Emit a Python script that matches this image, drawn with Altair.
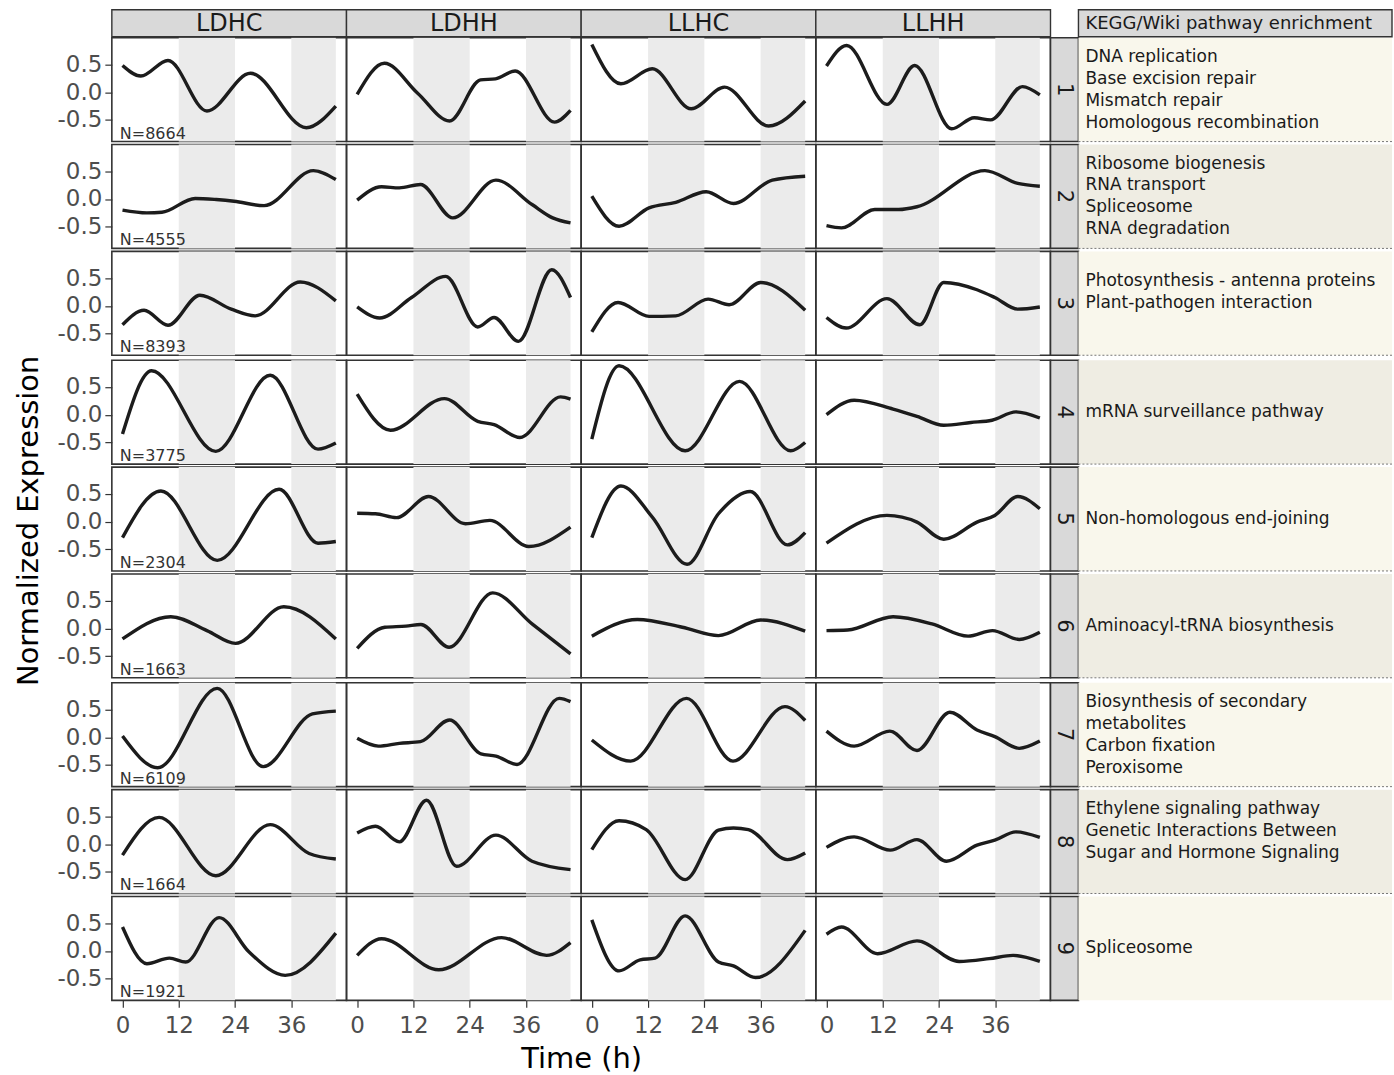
import altair as alt
import pandas as pd

FONT = "DejaVu Sans"

CONDITIONS = ["LDHC", "LDHH", "LLHC", "LLHH"]
CLUSTERS = ["1", "2", "3", "4", "5", "6", "7", "8", "9"]
CLUSTER_N = [8664, 4555, 8393, 3775, 2304, 1663, 6109, 1664, 1921]
PATHWAYS = [
    "DNA replication\nBase excision repair\nMismatch repair\nHomologous recombination",
    "Ribosome biogenesis\nRNA transport\nSpliceosome\nRNA degradation",
    "Photosynthesis - antenna proteins\nPlant-pathogen interaction\n",
    "mRNA surveillance pathway",
    "Non-homologous end-joining",
    "Aminoacyl-tRNA biosynthesis",
    "Biosynthesis of secondary\nmetabolites\nCarbon fixation\nPeroxisome",
    "Ethylene signaling pathway\nGenetic Interactions Between\nSugar and Hormone Signaling\n",
    "Spliceosome",
]
TABLE_HEADER = "KEGG/Wiki pathway enrichment"
NIGHT_START = [12, 36]
NIGHT_END = [24, 45.5]
X_TICKS = [0, 12, 24, 36]
Y_TICKS = [-0.5, 0.0, 0.5]

# (time in h, normalized expression)
LDHC = [
    [(0, .48), (3.9, .29), (9.7, .57), (18, -.34), (27.3, .34), (39.2, -.64), (45.5, -.25)],
    [(0, -.2), (5.2, -.25), (8.4, -.24), (15.5, .01), (20, -.01), (23.8, -.04), (30.2, -.12), (40.7, .51), (45.5, .35)],
    [(0, -.34), (4.6, -.08), (9.7, -.35), (16.5, .19), (23.2, -.06), (28.3, -.18), (37.9, .43), (45.5, .09)],
    [(0, -.35), (6.2, .79), (19.9, -.66), (31.5, .71), (41.7, -.62), (45.5, -.51)],
    [(0, -.29), (8.2, .55), (20.2, -.7), (33.4, .58), (41.7, -.39), (45.5, -.36)],
    [(0, -.19), (10.3, .21), (18, -.04), (24.1, -.27), (34.4, .39), (45.5, -.19)],
    [(0, .02), (7.5, -.55), (20.2, .88), (30, -.53), (40.5, .42), (45.5, .47)],
    [(0, -.2), (7.8, .48), (19.9, -.57), (31.5, .35), (39.8, -.17), (45.5, -.27)],
    [(0, .43), (5.2, -.23), (10, -.13), (13.5, -.2), (20.6, .6), (27, -.02), (34.7, -.44), (45.5, .32)],
]
LDHH = [
    [(0, -.04), (5.8, .52), (12.9, -.02), (19.7, -.52), (26.3, .22), (29.5, .24), (33.7, .38), (42.1, -.54), (45.5, -.33)],
    [(0, -.02), (5.2, .22), (9, .2), (13.5, .26), (20.4, -.34), (29.6, .34), (37.3, -.1), (41.7, -.34), (45.5, -.43)],
    [(0, -.02), (4.8, -.22), (11.6, .15), (18.9, .53), (25.7, -.38), (29.2, -.21), (34.4, -.64), (41.5, .65), (45.5, .15)],
    [(0, .37), (7.1, -.28), (18.6, .29), (25.7, -.12), (29.2, -.18), (34.7, -.41), (43.4, .32), (45.5, .28)],
    [(0, .15), (3.9, .14), (8.4, .07), (15.2, .45), (23.1, -.04), (28.3, .02), (36.6, -.45), (45.5, -.1)],
    [(0, -.36), (5.9, .02), (10.4, .04), (13.6, .07), (19.6, -.34), (28.9, .64), (37.3, .08), (45.5, -.46)],
    [(0, -.02), (4.5, -.16), (9, -.11), (13.5, -.08), (19.7, .31), (26.4, -.3), (29.6, -.34), (34.1, -.49), (43.1, .7), (45.5, .64)],
    [(0, .2), (3.9, .32), (9, .04), (14.8, .79), (21.2, -.4), (29.6, .16), (37.3, -.31), (45.5, -.46)],
    [(0, -.08), (5.2, .22), (17.4, -.34), (30.8, .24), (40.4, -.08), (45.5, .15)],
]
LLHC = [
    [(0, .86), (6.2, .15), (12.9, .42), (21.2, -.3), (28.3, .09), (37.7, -.61), (45.5, -.16)],
    [(0, .05), (5.8, -.49), (12.2, -.16), (17.9, -.06), (24.4, .13), (30.2, -.08), (38.5, .34), (45.5, .41)],
    [(0, -.47), (5.6, .06), (12.2, -.19), (17.9, -.18), (24.8, .12), (29.3, .02), (36, .42), (45.5, -.08)],
    [(0, -.44), (5.8, .88), (19.9, -.65), (31.5, .6), (42.4, -.65), (45.5, -.5)],
    [(0, -.29), (6.2, .64), (12.9, .08), (20.3, -.77), (27, .14), (33.8, .54), (41.7, -.42), (45.5, -.2)],
    [(0, -.14), (9.7, .16), (19.3, .02), (27, -.13), (36, .15), (45.5, -.05)],
    [(0, -.05), (8.3, -.43), (20.2, .7), (30.1, -.43), (41.2, .55), (45.5, .3)],
    [(0, -.1), (5.8, .42), (11.6, .26), (19.9, -.64), (27, .25), (30.2, .29), (33.4, .26), (41.7, -.28), (45.5, -.16)],
    [(0, .56), (5.8, -.36), (10.3, -.16), (13.5, -.13), (19.9, .63), (27, -.2), (30.2, -.27), (34.9, -.48), (45.5, .37)],
]
LLHH = [
    [(0, .47), (4.3, .84), (12.9, -.22), (18.8, .48), (26.7, -.66), (31.5, -.46), (35, -.5), (41.8, .1), (45.5, -.05)],
    [(0, -.48), (3.2, -.52), (10.3, -.19), (15.4, -.19), (19.3, -.14), (33.8, .51), (40.8, .28), (45.5, .23)],
    [(0, -.21), (4.2, -.4), (12.9, .13), (19.9, -.34), (25, .42), (32.1, .29), (35.9, .15), (40.8, -.06), (45.5, -.02)],
    [(0, 0), (5.9, .26), (14.2, .1), (19.3, -.03), (25, -.19), (30.8, -.14), (35.3, -.1), (40.4, .05), (45.5, -.06)],
    [(0, -.39), (12.9, .11), (19.3, -.01), (25, -.32), (32.1, -.01), (35.9, .11), (40.8, .45), (45.5, .23)],
    [(0, -.04), (4.5, -.03), (14.2, .21), (22.5, .08), (30.2, -.14), (35.4, -.04), (41.1, -.2), (45.5, -.07)],
    [(0, .11), (5.9, -.16), (13.5, .11), (19.3, -.24), (26.3, .45), (32.1, .13), (35.9, .01), (41.1, -.2), (45.5, -.07)],
    [(0, -.06), (5.9, .13), (13.6, -.11), (19.3, .08), (25.6, -.31), (32.1, -.02), (35.9, .07), (40.4, .22), (45.5, .12)],
    [(0, .3), (3.2, .43), (10.9, -.05), (19.3, .18), (28.3, -.19), (34.7, -.14), (39.8, -.08), (45.5, -.19)],
]
SERIES = {"LDHC": LDHC, "LDHH": LDHH, "LLHC": LLHC, "LLHH": LLHH}

# layout / style
W = 235
H = 104
STRIP_H = 28
RS_W = 28
TAB_W = 314
YLAB_W = 54
LINE_H = 22
XDOM = [-2.275, 47.775]
YDOM = [-0.89, 0.98]
DARK = "#333333"
GREY30 = "#4d4d4d"
STRIP_FILL = "#d9d9d9"
NIGHT_FILL = "#ebebeb"
LINE_COLOR = "#1c1c1c"
TAB_FILLS = ["#f9f7ec", "#efede3"]
TICK_FS = 23


def x_enc(field, ci, ri):
    kw = dict(scale=alt.Scale(domain=XDOM, nice=False, zero=False))
    if ri == 8:
        ax = dict(values=X_TICKS, labelFont=FONT, labelFontSize=TICK_FS, labelColor=GREY30,
                  tickColor=DARK, tickSize=7, tickWidth=1.2, labelPadding=7,
                  domain=False, grid=False)
        if ci == 1:
            ax.update(title="Time (h)", titleX=W, titleAlign="center", titleFont=FONT,
                      titleFontSize=29, titleFontWeight="normal", titleColor="#000000",
                      titlePadding=7)
            kw["axis"] = alt.Axis(**ax)
        else:
            kw["axis"] = alt.Axis(**ax)
            kw["title"] = None
    else:
        kw["axis"] = None
    return alt.X(field, **kw)


def panel(ci, ri):
    cond = CONDITIONS[ci]
    line_df = pd.DataFrame(SERIES[cond][ri], columns=["t", "v"])
    night_df = pd.DataFrame({"start": NIGHT_START, "end": NIGHT_END})
    yscale = alt.Scale(domain=YDOM, nice=False, zero=False)
    if ci == 0:
        yaxis = alt.Axis(values=Y_TICKS,
                         labelExpr="datum.value < 0 ? '-' + format(-datum.value, '.1f') : format(datum.value, '.1f')",
                         labelFont=FONT, labelFontSize=TICK_FS, labelColor=GREY30,
                         tickColor=DARK, tickSize=7, tickWidth=1.2, labelPadding=3,
                         labelOverlap=False, domain=False, grid=False)
    else:
        yaxis = None

    shade = alt.Chart(night_df).mark_rect(color=NIGHT_FILL).encode(
        x=x_enc("start:Q", ci, ri), x2="end:Q",
        y=alt.value(0), y2=alt.value(H),
    )
    line = alt.Chart(line_df).mark_line(
        interpolate="monotone", color=LINE_COLOR, strokeWidth=3.4
    ).encode(
        x=x_enc("t:Q", ci, ri),
        y=alt.Y("v:Q", scale=yscale, axis=yaxis, title=None),
    )
    layers = [shade, line]
    if ci == 0:
        ntext = alt.Chart(pd.DataFrame({"n": ["N=%d" % CLUSTER_N[ri]]})).mark_text(
            align="left", baseline="alphabetic", font=FONT, fontSize=16, color=DARK
        ).encode(x=alt.value(8), y=alt.value(H - 3), text="n:N")
        layers.append(ntext)
    if ri == 0:
        sdf = pd.DataFrame({"label": [cond]})
        srect = alt.Chart(sdf).mark_rect(fill=STRIP_FILL, stroke=DARK, strokeWidth=1.4).encode(
            x=alt.value(0), x2=alt.value(W), y=alt.value(-STRIP_H), y2=alt.value(-1)
        )
        stext = alt.Chart(sdf).mark_text(font=FONT, fontSize=24, color="#1a1a1a").encode(
            x=alt.value(W / 2), y=alt.value(-STRIP_H / 2), text="label:N"
        )
        layers += [srect, stext]
    return alt.layer(*layers).properties(width=W, height=H)


def right_strip(ri):
    return alt.Chart(pd.DataFrame({"c": [CLUSTERS[ri]]})).mark_text(
        angle=90, font=FONT, fontSize=21, color="#1a1a1a"
    ).encode(x=alt.value(RS_W / 2), y=alt.value(H / 2), text="c:N").properties(
        width=RS_W, height=H,
        view=alt.ViewBackground(fill=STRIP_FILL, stroke=DARK, strokeWidth=1.6),
    )


def table_cell(ri):
    text = PATHWAYS[ri]
    n_lines = text.count("\n") + 1
    tdf = pd.DataFrame({"p": [text]})
    txt = alt.Chart(tdf).mark_text(
        align="left", baseline="middle", lineBreak="\n", lineHeight=LINE_H,
        font=FONT, fontSize=17, color="#1a1a1a"
    ).encode(x=alt.value(7), y=alt.value(H / 2 - (n_lines - 1) * LINE_H / 2), text="p:N")
    layers = [txt]
    if ri < 8:
        sep = alt.Chart(tdf).mark_rule(color="#777777", strokeWidth=1, strokeDash=[2, 2]).encode(
            x=alt.value(0), x2=alt.value(TAB_W), y=alt.value(H)
        )
        layers.append(sep)
    if ri == 0:
        hdf = pd.DataFrame({"h": [TABLE_HEADER]})
        hrect = alt.Chart(hdf).mark_rect(fill=STRIP_FILL, stroke=DARK, strokeWidth=1.4).encode(
            x=alt.value(0), x2=alt.value(TAB_W), y=alt.value(-STRIP_H), y2=alt.value(-1)
        )
        htext = alt.Chart(hdf).mark_text(
            align="left", baseline="middle", font=FONT, fontSize=18, color="#1a1a1a"
        ).encode(x=alt.value(7), y=alt.value(-STRIP_H / 2), text="h:N")
        layers += [hrect, htext]
    return alt.layer(*layers).properties(
        width=TAB_W, height=H,
        view=alt.ViewBackground(fill=TAB_FILLS[ri % 2], stroke="transparent"),
    )


rows = []
for ri in range(9):
    cells = [panel(ci, ri) for ci in range(4)] + [right_strip(ri), table_cell(ri)]
    rows.append(alt.hconcat(*cells, spacing=0, bounds="flush"))
grid = alt.vconcat(*rows, spacing=0)

PITCH = H + 2.7
ylab = alt.Chart(pd.DataFrame({"t": ["Normalized Expression"]})).mark_text(
    angle=270, font=FONT, fontSize=29, color="#000000"
).encode(
    x=alt.value(28), y=alt.value(4 * PITCH + H / 2 + 5), text="t:N"
).properties(
    width=YLAB_W, height=STRIP_H + 9 * PITCH,
    view=alt.ViewBackground(stroke="transparent"),
)

chart = alt.hconcat(ylab, grid, spacing=0).properties(
    padding={"left": 0, "top": 7, "right": 0, "bottom": 0}
).configure(font=FONT).configure_view(stroke=DARK, strokeWidth=1.6)

chart.save("out.html", embed_options={"renderer": "svg", "actions": False})
